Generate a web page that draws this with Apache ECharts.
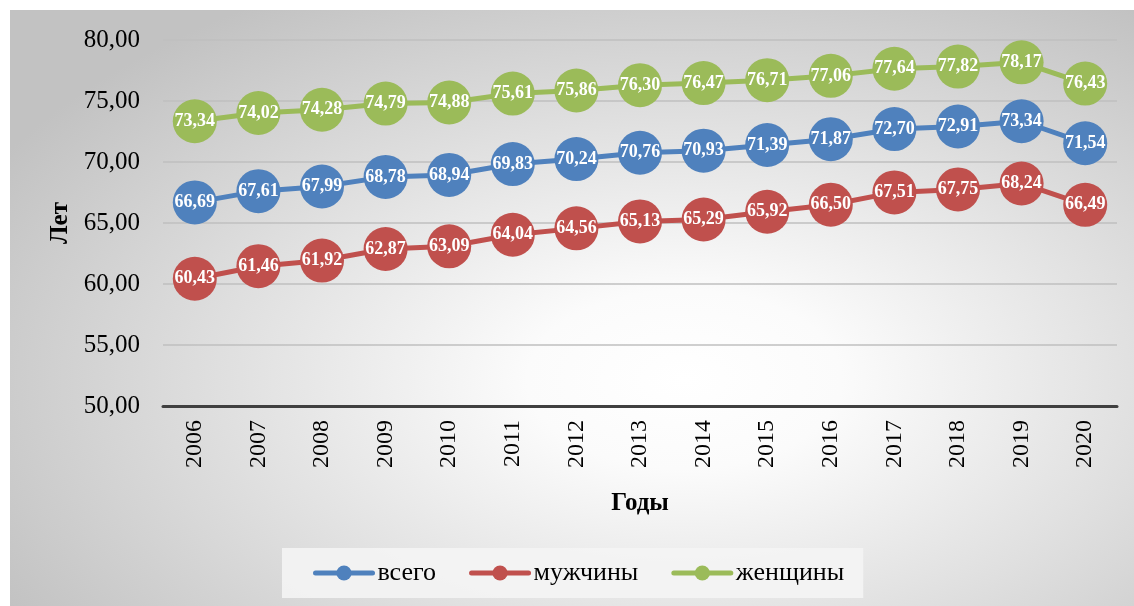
<!DOCTYPE html>
<html><head><meta charset="utf-8">
<script src="https://cdn.jsdelivr.net/npm/echarts@6/dist/echarts.min.js"></script>
<style>
html,body{margin:0;padding:0;background:#fff;}
#bg{position:absolute;left:10px;top:10px;width:1124px;height:596px;
 background:radial-gradient(ellipse 70% 75% at 60% 62%, #ffffff 0%, #fbfbfb 20%, #c2c2c2 100%);}
#c{position:absolute;left:0;top:0;width:1134px;height:606px;}
</style></head>
<body><div id="bg"></div><div id="c"></div>
<script>
const years = ['2006','2007','2008','2009','2010','2011','2012','2013','2014','2015','2016','2017','2018','2019','2020'];
const total = [66.69,67.61,67.99,68.78,68.94,69.83,70.24,70.76,70.93,71.39,71.87,72.70,72.91,73.34,71.54];
const men   = [60.43,61.46,61.92,62.87,63.09,64.04,64.56,65.13,65.29,65.92,66.50,67.51,67.75,68.24,66.49];
const women = [73.34,74.02,74.28,74.79,74.88,75.61,75.86,76.30,76.47,76.71,77.06,77.64,77.82,78.17,76.43];
const names = ['всего','мужчины','женщины'];
const colors = ['#4f81bd','#c0504d','#9bbb59'];
const serif = '"Liberation Serif", "DejaVu Serif", serif';
const fmt = v => v.toFixed(2).replace('.', ',');
const chart = echarts.init(document.getElementById('c'));
function mk(name, data, color){
  return {name, type:'line', data, color, symbol:'circle', symbolSize:44,
    lineStyle:{width:5,color}, itemStyle:{color},
    label:{show:true, position:'inside', color:'#fff', fontFamily:serif, fontWeight:'bold', fontSize:18,
      formatter:p=>fmt(p.value)}};
}
chart.setOption({
  backgroundColor:'transparent',
  animation:false,
  grid:{left:163,right:17,top:40,bottom:200},
  legend:{data:names, left:282, top:548, padding:[12,19,12,31], itemGap:33, itemWidth:57, itemHeight:19,
    backgroundColor:'rgba(244,244,244,0.9)',
    lineStyle:{width:5, cap:'round'},
    textStyle:{fontFamily:serif,fontSize:26,color:'#000'}},
  xAxis:{type:'category', data:years, boundaryGap:true,
    name:'Годы', nameLocation:'middle', nameGap:85,
    nameTextStyle:{fontFamily:serif,fontWeight:'bold',fontSize:25,color:'#000'},
    axisLine:{lineStyle:{color:'#404040',width:3}}, axisTick:{show:false},
    axisLabel:{rotate:90, margin:14, fontFamily:serif, fontSize:24, color:'#000'}},
  yAxis:{type:'value', min:50, max:80, interval:5,
    name:'Лет', nameLocation:'middle', nameGap:90, nameRotate:90,
    nameTextStyle:{fontFamily:serif,fontWeight:'bold',fontSize:25,color:'#000'},
    axisLine:{show:false}, axisTick:{show:false},
    splitLine:{lineStyle:{color:'#bfbfbf',width:1.5}},
    axisLabel:{margin:23, fontFamily:serif, fontSize:25, color:'#000', formatter:v=>fmt(v)}},
  series:[mk(names[0],total,colors[0]), mk(names[1],men,colors[1]), mk(names[2],women,colors[2])]
});
</script></body></html>
